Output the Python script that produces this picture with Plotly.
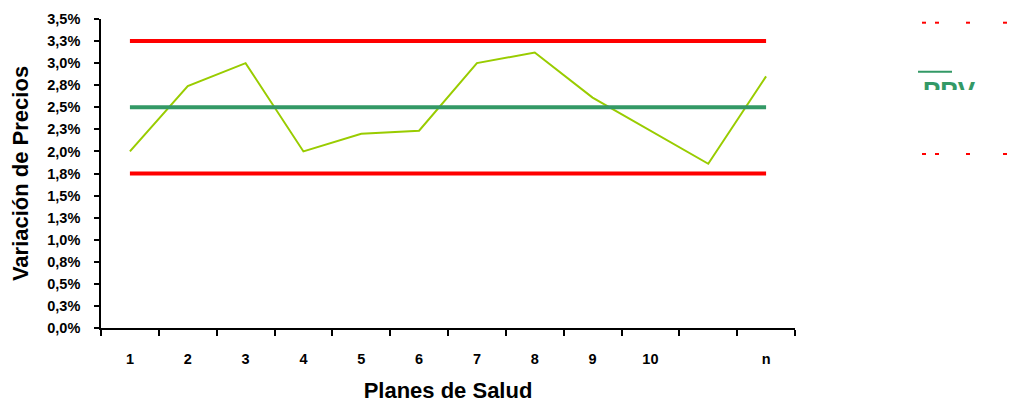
import plotly.graph_objects as go

# ---------------- data ----------------
categories = ["1", "2", "3", "4", "5", "6", "7", "8", "9", "10", "", "n"]
plan_values = [2.00, 2.74, 3.00, 2.00, 2.20, 2.235, 3.00, 3.12, 2.61, 2.235, 1.86, 2.85]
ls_values = [3.25] * 12   # límite superior
ppv_values = [2.50] * 12  # PPV
li_values = [1.75] * 12   # límite inferior

y_tick_values = [0, 0.25, 0.5, 0.75, 1.0, 1.25, 1.5, 1.75, 2.0, 2.25, 2.5, 2.75, 3.0, 3.25, 3.5]
y_tick_labels = ["0,0%", "0,3%", "0,5%", "0,8%", "1,0%", "1,3%", "1,5%", "1,8%",
                 "2,0%", "2,3%", "2,5%", "2,8%", "3,0%", "3,3%", "3,5%"]

# ---------------- layout geometry ----------------
W, H = 1014, 403
L, R, T, B = 101, 795, 19, 328  # plot area in pixels


def px_x(p):
    return (p - L) / (R - L)


def px_y(p):
    return (B - p) / (B - T)


x_idx = list(range(len(categories)))
FONT = "Liberation Sans, Arial, sans-serif"
RED = "#FF0000"
GREEN = "#339966"
LIME = "#99CC00"

fig = go.Figure()
fig.add_trace(go.Scatter(x=x_idx, y=plan_values, mode="lines", name="Plan",
                         line=dict(color=LIME, width=2), showlegend=False))
fig.add_trace(go.Scatter(x=x_idx, y=ls_values, mode="lines", name="LS",
                         line=dict(color=RED, width=4), showlegend=False))
fig.add_trace(go.Scatter(x=x_idx, y=ppv_values, mode="lines", name="PPV",
                         line=dict(color=GREEN, width=4), showlegend=False))
fig.add_trace(go.Scatter(x=x_idx, y=li_values, mode="lines", name="LI",
                         line=dict(color=RED, width=4), showlegend=False))

fig.update_layout(
    width=W, height=H, autosize=False,
    margin=dict(l=L, r=W - R, t=T, b=H - B, pad=0),
    paper_bgcolor="white", plot_bgcolor="white",
    font=dict(family=FONT, color="black"),
    showlegend=False,
    xaxis=dict(
        automargin=False,
        range=[-0.5, len(categories) - 0.5],
        tickmode="array", tickvals=x_idx, ticktext=categories,
        ticks="outside", ticklen=17, tickcolor="rgba(0,0,0,0)",
        tickfont=dict(size=14.5, family=FONT, weight="bold"),
        showline=True, linecolor="black", linewidth=1.5,
        showgrid=False, zeroline=False,
        minor=dict(tickmode="array",
                   tickvals=[i - 0.5 for i in range(len(categories) + 1)],
                   ticks="outside", ticklen=6, tickcolor="black", tickwidth=1.5,
                   showgrid=False),
        title=dict(text="Planes de Salud",
                   font=dict(size=22, family=FONT, weight="bold"), standoff=19),
    ),
    yaxis=dict(
        automargin=False,
        range=[0, 3.5],
        tickmode="array", tickvals=y_tick_values, ticktext=y_tick_labels,
        ticks="outside", ticklen=5, tickcolor="black", tickwidth=1.5,
        ticklabelstandoff=11,
        tickfont=dict(size=14.5, family=FONT, weight="bold"),
        showline=True, linecolor="black", linewidth=1.5,
        showgrid=False, zeroline=False,
        title=dict(text="Variación de Precios",
                   font=dict(size=22, family=FONT, weight="bold"), standoff=13),
    ),
)

# ---------------- clipped legend imitation ----------------
shapes = []
for yy in (22.7, 154):
    for xx in (922, 935, 966, 1003):
        shapes.append(dict(type="line", xref="paper", yref="paper",
                           x0=px_x(xx), x1=px_x(xx + 4), y0=px_y(yy), y1=px_y(yy),
                           line=dict(color=RED, width=2)))
shapes.append(dict(type="line", xref="paper", yref="paper",
                   x0=px_x(918), x1=px_x(952), y0=px_y(71.7), y1=px_y(71.7),
                   line=dict(color=GREEN, width=2)))
fig.update_layout(shapes=shapes)

fig.add_annotation(text="<b>PPV</b>", xref="paper", yref="paper",
                   x=px_x(921), y=px_y(91), xanchor="left", yanchor="middle",
                   showarrow=False, font=dict(size=26, family=FONT, color=GREEN))
# white cover that clips the lower part of the legend label
fig.add_annotation(text=" ", xref="paper", yref="paper",
                   x=px_x(910), y=px_y(90), xanchor="left", yanchor="top",
                   width=90, height=30, bgcolor="white", showarrow=False,
                   borderpad=0, borderwidth=0)

fig.write_html(
    "out.html",
    config={"displayModeBar": False},
    post_script="document.body.style.margin='0';document.body.style.overflow='hidden';",
)
